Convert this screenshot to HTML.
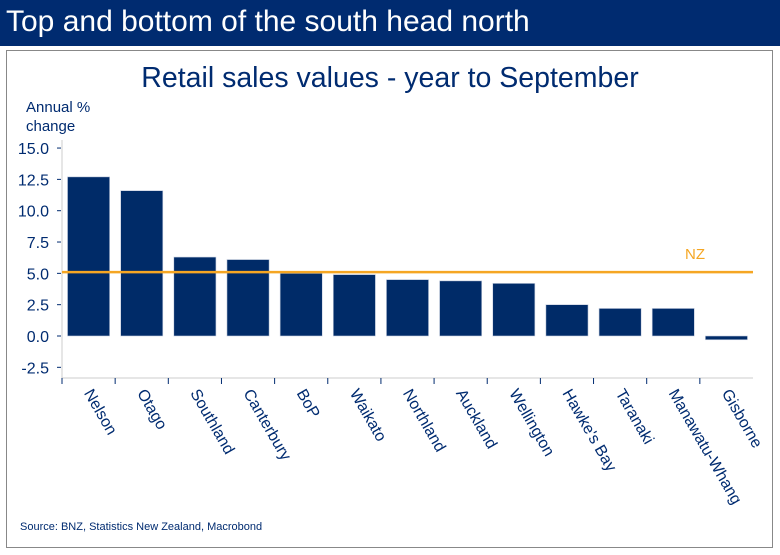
<!DOCTYPE html>
<html><head><meta charset="utf-8"><style>
body{margin:0;width:780px;height:555px;background:#fff;overflow:hidden;font-family:"Liberation Sans",sans-serif}
#hdr{position:absolute;left:0;top:0;width:780px;height:46px;background:#002b70;color:#fff;font-family:"Liberation Sans",sans-serif;font-size:30px;line-height:44px;padding-left:6px;box-sizing:border-box}
#box{position:absolute;left:6px;top:50px;width:767px;height:498px;border:1px solid #888;box-sizing:border-box}
svg{position:absolute;left:0;top:0}
</style></head><body>
<div id="hdr">Top and bottom of the south head north</div>
<div id="box"></div>
<svg id="c" width="780" height="555"></svg>
<script>
const categories=["Nelson","Otago","Southland","Canterbury","BoP","Waikato","Northland","Auckland","Wellington","Hawke's Bay","Taranaki","Manawatu-Whang","Gisborne"];
const values=[12.7,11.6,6.3,6.1,5.0,4.9,4.5,4.4,4.2,2.5,2.2,2.2,-0.3];
const nzValue=5.1;
const yTicks=[15,12.5,10,7.5,5,2.5,0,-2.5];
const yTickLabels=["15.0","12.5","10.0","7.5","5.0","2.5","0.0","-2.5"];
const NS="http://www.w3.org/2000/svg",svg=document.getElementById('c');
const L=62,R=753,Y0=336,PX=12.53;
const y=v=>Y0-v*PX;
const bw=(R-L)/categories.length;
const x=i=>L+i*bw;
function mk(t,a,txt){const e=document.createElementNS(NS,t);for(const k in a)e.setAttribute(k,a[k]);if(txt!=null)e.textContent=txt;svg.appendChild(e);return e;}
let e;
e=mk('text',{x:390,y:87,'text-anchor':'middle','font-size':28.5,fill:'#002b70'},'Retail sales values - year to September');


e=mk('text',{x:26,y:112,'font-size':15,fill:'#002b70'},'Annual %');


e=mk('text',{x:26,y:131,'font-size':15,fill:'#002b70'},'change');


e=mk('line',{x1:L,y1:140,x2:L,y2:378,stroke:'#ccc'});


yTicks.forEach((t,i)=>{
 e=mk('line',{x1:L-5,x2:L-1,y1:y(t),y2:y(t),stroke:'#002b70'});
 
 
 e=mk('text',{x:L-13,y:y(t)+6,'text-anchor':'end','font-size':16,fill:'#002b70'},yTickLabels[i]);
 
 
});
e=mk('line',{x1:L,x2:R,y1:378,y2:378,stroke:'#ccc'});


categories.forEach((c,i)=>{
 const v=values[i],top=Math.min(y(v),Y0),h=Math.max(Math.abs(y(v)-Y0),1);
 e=mk('rect',{x:x(i)+5.5,y:top,width:bw-11,height:h,fill:'#002b68',stroke:'#c8d0e0','stroke-width':0.6});
 
 
 e=mk('line',{x1:x(i),x2:x(i),y1:378,y2:384,stroke:'#002b70'});
 
 
 const cx=x(i)+bw/2-5,cy=393;
 e=mk('text',{x:cx,y:cy,'font-size':16,fill:'#002b70',transform:`rotate(60 ${cx} ${cy})`},c);
 
 
});
e=mk('line',{x1:L,x2:R,y1:y(nzValue),y2:y(nzValue),stroke:'#f5a623','stroke-width':2.5});


e=mk('text',{x:695,y:259,'text-anchor':'middle','font-size':15,fill:'#f5a623'},'NZ');


e=mk('text',{x:20,y:530,'font-size':11,fill:'#002b70'},'Source: BNZ, Statistics New Zealand, Macrobond');


</script>
</body></html>
